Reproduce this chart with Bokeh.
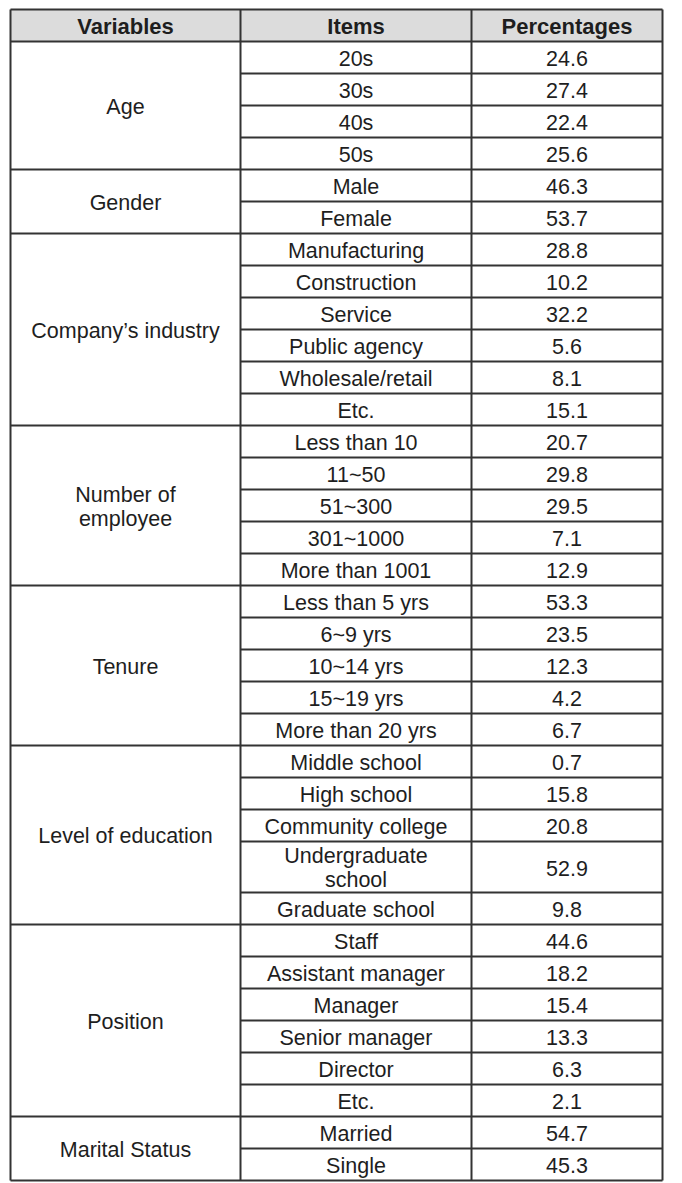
from bokeh.plotting import figure
from bokeh.models import Range1d
from bokeh.core.properties import value
from bokeh.embed import file_html
from bokeh.resources import INLINE

headers = ["Variables", "Items", "Percentages"]
variables = ["Age", "Gender", "Company\u2019s industry", "Number of\nemployee",
             "Tenure", "Level of education", "Position", "Marital Status"]
group_sizes = [4, 2, 6, 5, 5, 5, 6, 2]
items = ["20s", "30s", "40s", "50s",
         "Male", "Female",
         "Manufacturing", "Construction", "Service", "Public agency", "Wholesale/retail", "Etc.",
         "Less than 10", "11~50", "51~300", "301~1000", "More than 1001",
         "Less than 5 yrs", "6~9 yrs", "10~14 yrs", "15~19 yrs", "More than 20 yrs",
         "Middle school", "High school", "Community college", "Undergraduate\nschool", "Graduate school",
         "Staff", "Assistant manager", "Manager", "Senior manager", "Director", "Etc.",
         "Married", "Single"]
percentages = ["24.6", "27.4", "22.4", "25.6",
               "46.3", "53.7",
               "28.8", "10.2", "32.2", "5.6", "8.1", "15.1",
               "20.7", "29.8", "29.5", "7.1", "12.9",
               "53.3", "23.5", "12.3", "4.2", "6.7",
               "0.7", "15.8", "20.8", "52.9", "9.8",
               "44.6", "18.2", "15.4", "13.3", "6.3", "2.1",
               "54.7", "45.3"]

# layout (image pixel coordinates)
X0, X1, X2, X3 = 10, 240, 471, 662
TOP, HEAD_B = 9, 41
ROW_H, ROW_H2 = 32, 51

row_tops = []
y = HEAD_B
for it in items:
    row_tops.append(y)
    y += ROW_H2 if "\n" in it else ROW_H
BOTTOM = y
row_bots = row_tops[1:] + [BOTTOM]

W, H = 672, 1183
p = figure(width=W, height=H, x_range=Range1d(0, W), y_range=Range1d(H, 0),
           output_backend="svg", toolbar_location=None, min_border=0)
p.axis.visible = False
p.grid.visible = False
p.outline_line_color = None
p.background_fill_color = "white"
p.border_fill_color = "white"

# header background
p.quad(left=[X0], right=[X3], top=[TOP], bottom=[HEAD_B], fill_color="#dcdcdc", line_color=None)

LC = "#333333"
x0s, y0s, x1s, y1s = [], [], [], []
for yy in (TOP, HEAD_B, BOTTOM):
    x0s.append(X0); x1s.append(X3); y0s.append(yy); y1s.append(yy)
idx = 0
group_ranges = []
for g in group_sizes:
    start = idx
    end = idx + g
    group_ranges.append((row_tops[start], row_bots[end - 1]))
    for r in range(start, end - 1):
        x0s.append(X1); x1s.append(X3); y0s.append(row_bots[r]); y1s.append(row_bots[r])
    if end < len(items):
        x0s.append(X0); x1s.append(X3); y0s.append(row_bots[end - 1]); y1s.append(row_bots[end - 1])
    idx = end
for xx in (X0, X1, X2, X3):
    x0s.append(xx); x1s.append(xx); y0s.append(TOP); y1s.append(BOTTOM)
p.segment(x0=x0s, y0=y0s, x1=x1s, y1=y1s, line_color=LC, line_width=2)

cx = [(X0 + X1) / 2, (X1 + X2) / 2, (X2 + X3) / 2]
FONT = value("Liberation Sans")
TC = "#1e1e1e"

p.text(x=cx, y=[(TOP + HEAD_B) / 2 + 1] * 3, text=headers, text_font=FONT,
       text_font_size="22px", text_font_style="bold", text_align="center",
       text_baseline="middle", text_color=TC)

p.text(x=[cx[0]] * len(variables), y=[(a + b) / 2 + 1 for a, b in group_ranges], text=variables,
       text_font=FONT, text_font_size="21.5px", text_align="center", text_baseline="middle",
       text_color=TC, text_line_height=1.0)

ymid = [(a + b) / 2 + 1 for a, b in zip(row_tops, row_bots)]
p.text(x=[cx[1]] * len(items), y=ymid, text=items, text_font=FONT, text_font_size="21.5px",
       text_align="center", text_baseline="middle", text_color=TC, text_line_height=1.0)
p.text(x=[cx[2]] * len(percentages), y=ymid, text=percentages, text_font=FONT,
       text_font_size="21.5px", text_align="center", text_baseline="middle", text_color=TC)

open("out.html", "w").write(file_html(p, INLINE))
